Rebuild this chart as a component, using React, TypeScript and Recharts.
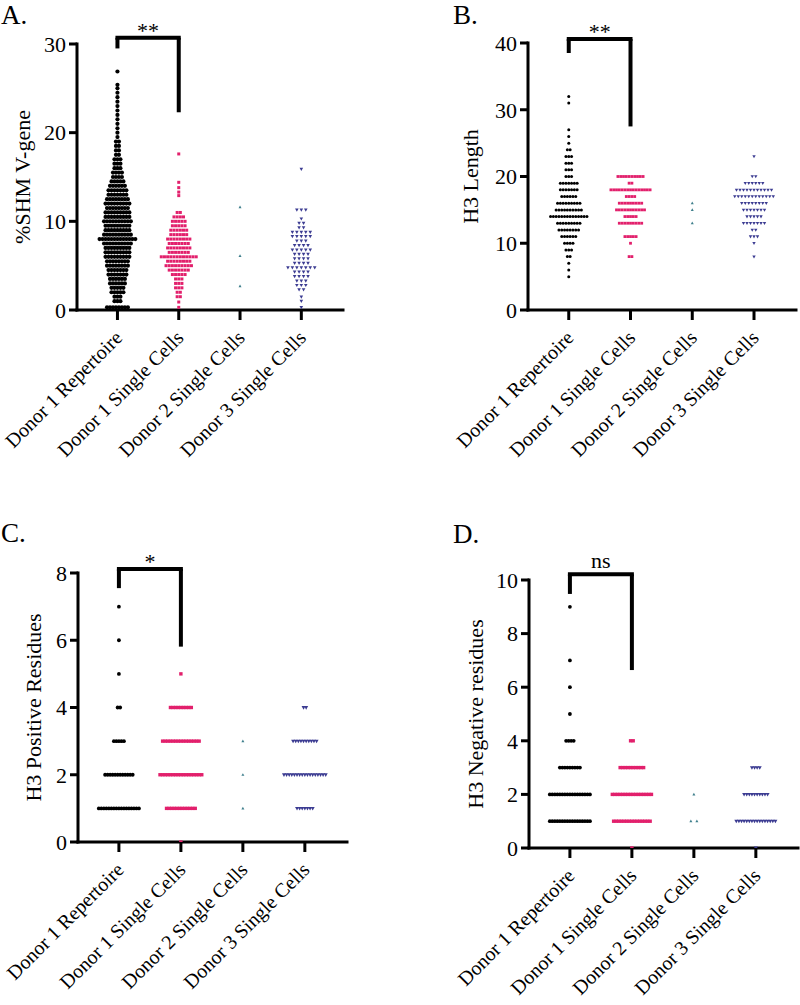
import React from 'react';
import { ScatterChart, Scatter, XAxis, YAxis, ReferenceLine } from 'recharts';

const FONT = '"Liberation Serif", "Times New Roman", serif';

const categories = ['Donor 1 Repertoire', 'Donor 1 Single Cells', 'Donor 2 Single Cells', 'Donor 3 Single Cells'];
const catPositions = [1, 2, 3, 4];

const BLACK = '#000000';
const PINK = '#e2206c';
const TEAL = '#3f7f8c';
const NAVY = '#3c3c92';

// ---------- Panel A: %SHM V-gene (value bins and number of points per bin) ----------
const shmRepBins = [0.3, 1, 1.5, 2, 2.5, 3, 3.5, 4, 4.5, 5, 5.5, 6, 6.5, 7, 7.5, 8, 8.5, 9, 9.5, 10, 10.5, 11, 11.5, 12, 12.5, 13, 13.5, 14, 14.5, 15, 15.5, 16, 16.5, 17, 17.5, 18, 18.5, 19, 19.5, 20, 20.5, 21, 21.5, 22, 22.5, 23, 23.5, 24, 24.5, 25, 25.4, 26.9];
const shmRepCounts = [8, 3, 3, 5, 5, 6, 6, 7, 7, 8, 8, 9, 9, 9, 10, 13, 10, 9, 9, 10, 9, 9, 8, 9, 8, 7, 7, 6, 5, 4, 4, 3, 3, 3, 2, 2, 2, 2, 1, 1, 1, 1, 1, 1, 1, 1, 1, 1, 1, 1, 1, 1];
const shmD1Bins = [0.3, 0.9, 1.5, 2, 2.5, 3, 3.5, 4, 4.5, 5, 5.5, 6, 6.5, 7, 7.5, 8, 8.5, 9, 9.5, 10, 10.5, 11, 12.9, 13.3, 13.8, 14.4, 17.6];
const shmD1Counts = [1, 1, 2, 2, 3, 3, 3, 5, 7, 9, 8, 12, 7, 8, 7, 8, 6, 6, 5, 5, 4, 2, 1, 1, 1, 1, 1];
const shmD2Bins = [2.7, 6.1, 11.6];
const shmD2Counts = [1, 1, 1];
const shmD3Bins = [0.3, 1.0, 1.5, 2.3, 2.8, 3.3, 3.8, 4.3, 4.8, 5.3, 5.8, 6.3, 6.8, 7.3, 7.8, 8.3, 8.8, 9.3, 9.8, 10.3, 11.3, 15.9];
const shmD3Counts = [1, 1, 1, 2, 3, 3, 4, 4, 7, 4, 4, 4, 5, 4, 3, 5, 5, 2, 2, 1, 3, 1];

// ---------- Panel B: H3 Length ----------
const lenRepBins = [5, 6, 7, 8, 9, 10, 11, 12, 13, 14, 15, 16, 17, 18, 19, 20, 21, 22, 23, 24, 25, 26, 27, 31, 32];
const lenRepCounts = [1, 1, 1, 2, 3, 4, 6, 8, 9, 14, 10, 9, 6, 7, 7, 3, 3, 3, 3, 2, 1, 1, 1, 1, 1];
const lenD1Bins = [8, 10, 11, 13, 14, 15, 16, 17, 18, 19, 20];
const lenD1Counts = [2, 1, 5, 9, 5, 11, 9, 4, 15, 2, 10];
const lenD2Bins = [13, 15, 16];
const lenD2Counts = [1, 1, 1];
const lenD3Bins = [8, 10, 11, 12, 13, 14, 15, 16, 17, 18, 19, 20, 23];
const lenD3Counts = [1, 1, 3, 2, 7, 5, 7, 8, 12, 11, 6, 2, 1];

// ---------- Panel C: H3 Positive Residues ----------
const posRepBins = [1, 2, 3, 4, 5, 6, 7];
const posRepCounts = [17, 12, 5, 2, 1, 1, 1];
const posD1Bins = [0, 1, 2, 3, 4, 5];
const posD1Counts = [1, 12, 17, 15, 9, 1];
const posD2Bins = [1, 2, 3];
const posD2Counts = [1, 1, 1];
const posD3Bins = [1, 2, 3, 4];
const posD3Counts = [7, 17, 10, 2];

// ---------- Panel D: H3 Negative residues ----------
const negRepBins = [1, 2, 3, 4, 5, 6, 7, 9];
const negRepCounts = [17, 17, 9, 4, 1, 1, 1, 1];
const negD1Bins = [0, 1, 2, 3, 4];
const negD1Counts = [1, 15, 16, 10, 2];
const negD2Bins = [1, 2];
const negD2Counts = [2, 1];
const negD3Bins = [0, 1, 2, 3];
const negD3Counts = [1, 16, 10, 4];

// significance brackets: [top, left leg end, right leg end]
const sigA = { top: 30.7, leftEnd: 29.5, rightEnd: 22.3, text: '**' };
const sigB = { top: 40.6, leftEnd: 38.5, rightEnd: 27.5, text: '**' };
const sigC = { top: 8.12, leftEnd: 7.55, rightEnd: 5.81, text: '*' };
const sigD = { top: 10.21, leftEnd: 9.48, rightEnd: 6.64, text: 'ns' };

const X_DOMAIN: [number, number] = [0.34, 4.68];
const PX_PER_UNIT = 268 / (X_DOMAIN[1] - X_DOMAIN[0]);

// beeswarm-like row layout: points of the same bin are spread side by side around the category
function swarm(cat: number, bins: number[], counts: number[], spacingPx: number) {
  const pts: { x: number; y: number }[] = [];
  bins.forEach((v, i) => {
    const n = counts[i];
    for (let k = 0; k < n; k++) {
      pts.push({ x: cat + ((k - (n - 1) / 2) * spacingPx) / PX_PER_UNIT, y: v });
    }
  });
  return pts;
}

const dot = (r: number, fill: string) => (p: any) => <circle cx={p.cx} cy={p.cy} r={r} fill={fill} />;
const square = (s: number, fill: string) => (p: any) => (
  <rect x={p.cx - s / 2} y={p.cy - s / 2} width={s} height={s} fill={fill} />
);
const triUp = (w: number, fill: string) => (p: any) => {
  const h = w * 0.9;
  return <path d={`M${p.cx},${p.cy - h * 0.6}L${p.cx + w / 2},${p.cy + h * 0.4}L${p.cx - w / 2},${p.cy + h * 0.4}Z`} fill={fill} />;
};
const triDown = (w: number, fill: string) => (p: any) => {
  const h = w * 0.9;
  return <path d={`M${p.cx},${p.cy + h * 0.6}L${p.cx + w / 2},${p.cy - h * 0.4}L${p.cx - w / 2},${p.cy - h * 0.4}Z`} fill={fill} />;
};

const CatTick = (props: any) => {
  const { x, y, payload } = props;
  const ax = x + 6;
  const ay = y + 17;
  return (
    <text x={ax} y={ay} transform={`rotate(-45 ${ax} ${ay})`} textAnchor="end" fontSize={20} fontFamily={FONT} fill="#000">
      {categories[catPositions.indexOf(payload.value)]}
    </text>
  );
};

type SeriesDef = { data: { x: number; y: number }[]; shape: any };
type PanelDef = {
  left: number;
  top: number;
  width: number;
  height: number;
  margin: { top: number; right: number; bottom: number; left: number };
  yWidth: number;
  yDomain: [number, number];
  yTicks: number[];
  title: string;
  titleX: number;
  plotTop: number;
  plotBottom: number;
  series: SeriesDef[];
  sig: { top: number; leftEnd: number; rightEnd: number; text: string };
  sigOffset: number;
};

const axisStyle = { stroke: '#000', strokeWidth: 3, strokeLinecap: 'square' as const };

function Panel({ p }: { p: PanelDef }) {
  const titleY = (p.plotTop + p.plotBottom) / 2;
  return (
    <div style={{ position: 'absolute', left: p.left, top: p.top }}>
      <ScatterChart width={p.width} height={p.height} margin={p.margin}>
        <XAxis
          type="number"
          dataKey="x"
          domain={X_DOMAIN}
          allowDataOverflow
          ticks={catPositions}
          interval={0}
          height={150}
          tickSize={10}
          tickMargin={2}
          axisLine={axisStyle}
          tickLine={{ stroke: '#000', strokeWidth: 3 }}
          tick={<CatTick />}
        />
        <YAxis
          type="number"
          dataKey="y"
          domain={p.yDomain}
          allowDataOverflow
          ticks={p.yTicks}
          interval={0}
          width={p.yWidth}
          tickSize={8}
          tickMargin={3}
          axisLine={axisStyle}
          tickLine={{ stroke: '#000', strokeWidth: 3 }}
          tick={{ fontSize: 22, fill: '#000', fontFamily: FONT }}
          label={() => (
            <text
              x={p.titleX}
              y={titleY}
              transform={`rotate(-90 ${p.titleX} ${titleY})`}
              textAnchor="middle"
              fontSize={22}
              fontFamily={FONT}
              fill="#000"
            >
              {p.title}
            </text>
          )}
        />
        {p.series.map((s, i) => (
          <Scatter key={i} data={s.data} shape={s.shape} isAnimationActive={false} />
        ))}
        <ReferenceLine
          segment={[{ x: 1, y: p.sig.top }, { x: 2, y: p.sig.top }]}
          stroke="#000"
          strokeWidth={4}
          strokeLinecap="square"
          ifOverflow="visible"
          label={{ value: p.sig.text, position: 'top', offset: p.sigOffset, fontSize: 22, fill: '#000', fontFamily: FONT }}
        />
        <ReferenceLine
          segment={[{ x: 1, y: p.sig.top }, { x: 1, y: p.sig.leftEnd }]}
          stroke="#000"
          strokeWidth={4}
          ifOverflow="visible"
        />
        <ReferenceLine
          segment={[{ x: 2, y: p.sig.top }, { x: 2, y: p.sig.rightEnd }]}
          stroke="#000"
          strokeWidth={4}
          ifOverflow="visible"
        />
      </ScatterChart>
    </div>
  );
}

const panels: PanelDef[] = [
  {
    left: 0, top: 0, width: 400, height: 500,
    margin: { top: 44, right: 57, bottom: 40, left: 0 },
    yWidth: 77, yDomain: [0, 30], yTicks: [0, 10, 20, 30],
    title: '%SHM V-gene', titleX: 30, plotTop: 44, plotBottom: 310,
    series: [
      { data: swarm(1, shmRepBins, shmRepCounts, 3), shape: dot(2.1, BLACK) },
      { data: swarm(2, shmD1Bins, shmD1Counts, 3.2), shape: square(3, PINK) },
      { data: swarm(3, shmD2Bins, shmD2Counts, 4), shape: triUp(3, TEAL) },
      { data: swarm(4, shmD3Bins, shmD3Counts, 4.5), shape: triDown(3.6, NAVY) },
    ],
    sig: sigA, sigOffset: 0,
  },
  {
    left: 400, top: 0, width: 400, height: 500,
    margin: { top: 43, right: 4, bottom: 40, left: 0 },
    yWidth: 128, yDomain: [0, 40], yTicks: [0, 10, 20, 30, 40],
    title: 'H3 Length', titleX: 78, plotTop: 43, plotBottom: 310,
    series: [
      { data: swarm(1, lenRepBins, lenRepCounts, 2.8), shape: dot(1.5, BLACK) },
      { data: swarm(2, lenD1Bins, lenD1Counts, 2.8), shape: square(2.8, PINK) },
      { data: swarm(3, lenD2Bins, lenD2Counts, 4), shape: triUp(3, TEAL) },
      { data: swarm(4, lenD3Bins, lenD3Counts, 3.5), shape: triDown(3.4, NAVY) },
    ],
    sig: sigB, sigOffset: 0,
  },
  {
    left: 0, top: 520, width: 400, height: 485,
    margin: { top: 53, right: 53, bottom: 13, left: 0 },
    yWidth: 78, yDomain: [0, 8], yTicks: [0, 2, 4, 6, 8],
    title: 'H3 Positive Residues', titleX: 41, plotTop: 53, plotBottom: 322,
    series: [
      { data: swarm(1, posRepBins, posRepCounts, 2.5), shape: dot(1.9, BLACK) },
      { data: swarm(2, posD1Bins, posD1Counts, 2.6), shape: square(3.4, PINK) },
      { data: swarm(3, posD2Bins, posD2Counts, 6), shape: triUp(3, TEAL) },
      { data: swarm(4, posD3Bins, posD3Counts, 2.6), shape: triDown(4, NAVY) },
    ],
    sig: sigC, sigOffset: 0,
  },
  {
    left: 400, top: 520, width: 400, height: 485,
    margin: { top: 60, right: 2, bottom: 7, left: 0 },
    yWidth: 129, yDomain: [0, 10], yTicks: [0, 2, 4, 6, 8, 10],
    title: 'H3 Negative residues', titleX: 83, plotTop: 60, plotBottom: 328,
    series: [
      { data: swarm(1, negRepBins, negRepCounts, 2.5), shape: dot(1.9, BLACK) },
      { data: swarm(2, negD1Bins, negD1Counts, 2.6), shape: square(3.4, PINK) },
      { data: swarm(3, negD2Bins, negD2Counts, 6), shape: triUp(3, TEAL) },
      { data: swarm(4, negD3Bins, negD3Counts, 2.6), shape: triDown(4, NAVY) },
    ],
    sig: sigD, sigOffset: 6,
  },
];

const panelLabels = [
  { text: 'A.', x: 1, y: 24 },
  { text: 'B.', x: 453, y: 24 },
  { text: 'C.', x: 1, y: 542 },
  { text: 'D.', x: 453, y: 543 },
];

export default function App() {
  return (
    <div style={{ position: 'absolute', left: 0, top: 0, width: 800, height: 1005, background: '#fff', overflow: 'hidden' }}>
      {panels.map((p, i) => (
        <Panel key={i} p={p} />
      ))}
      <svg width={800} height={1005} style={{ position: 'absolute', left: 0, top: 0, pointerEvents: 'none' }}>
        {panelLabels.map((l) => (
          <text key={l.text} x={l.x} y={l.y} fontSize={27} fontFamily={FONT} fill="#000">
            {l.text}
          </text>
        ))}
      </svg>
    </div>
  );
}
